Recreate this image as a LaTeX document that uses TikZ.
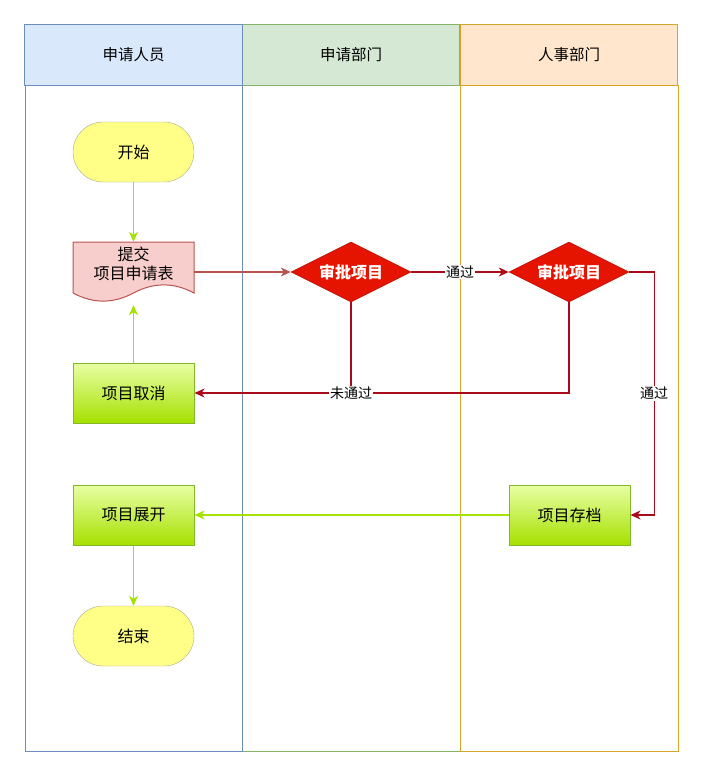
\documentclass[tikz,border=0pt]{standalone}
\usepackage{fontspec}
\setmainfont{Noto Sans CJK SC}
\usetikzlibrary{shapes.geometric,arrows.meta}
\definecolor{hdrblue}{RGB}{218,232,252}
\definecolor{lnblue}{RGB}{108,142,191}
\definecolor{hdrgreen}{RGB}{213,232,212}
\definecolor{lngreen}{RGB}{130,179,102}
\definecolor{hdrorange}{RGB}{255,230,204}
\definecolor{lnorange}{RGB}{215,165,40}
\definecolor{termfill}{RGB}{255,255,136}
\definecolor{termline}{RGB}{170,170,140}
\definecolor{docfill}{RGB}{248,206,204}
\definecolor{docline}{RGB}{184,84,80}
\definecolor{decfill}{RGB}{229,20,0}
\definecolor{decline}{RGB}{178,0,0}
\definecolor{redarrow}{RGB}{170,10,25}
\definecolor{lime}{RGB}{166,226,0}
\definecolor{boxtop}{RGB}{232,255,165}
\definecolor{boxbot}{RGB}{166,224,0}
\definecolor{boxline}{RGB}{130,185,40}
\tikzset{
  hdr/.style={draw, minimum width=217.5pt, minimum height=60pt, inner sep=0pt, font=\fontsize{15.5}{18}\selectfont},
  term/.style={draw=termline, fill=termfill, rounded corners=30pt, minimum width=121pt, minimum height=60pt, inner sep=0pt, font=\fontsize{16}{19}\selectfont},
  procbox/.style={draw=boxline, line width=1pt, top color=boxtop, bottom color=boxbot, minimum width=121pt, minimum height=60pt, inner sep=0pt, font=\fontsize{16}{19}\selectfont},
  decision/.style={diamond, draw=decline, fill=decfill, aspect=2, minimum width=120pt, minimum height=60pt, inner sep=0pt, text=white, font=\bfseries\fontsize{16}{19}\selectfont},
  lbl/.style={fill=white, inner sep=1pt, font=\fontsize{14}{16}\selectfont},
  tipstyle/.style={-{Stealth[length=10pt,width=9pt,inset=3pt]}},
  limearrow/.style={draw=lime, line width=1.2pt, tipstyle},
  redarr/.style={draw=redarrow, line width=1.2pt, tipstyle},
  pinkarr/.style={draw=docline, line width=1.2pt, tipstyle},
}
\begin{document}
\begin{tikzpicture}[x=1pt,y=-1pt]
\useasboundingbox (0,0) rectangle (703,776);
% lanes
\draw[lngreen, line width=1pt] (242,85) rectangle (460,751);
\draw[lnblue, line width=1pt] (25,85) rectangle (242,751);
\draw[lnorange, line width=1pt] (460,85) rectangle (678,751);
\node[hdr, draw=lngreen, fill=hdrgreen, line width=1pt] (h2) at (351,55) {申请部门};
\node[hdr, draw=lnblue, fill=hdrblue, line width=1pt] (h1) at (133.5,55) {申请人员};
\node[hdr, draw=lnorange, fill=hdrorange, line width=1pt] (h3) at (569,55) {人事部门};
% nodes
\node[term] (start) at (133.5,152) {开始};
\node[minimum width=121pt, minimum height=60pt, inner sep=0pt] (doc) at (133.5,272) {};
\draw[docline, fill=docfill, line width=1pt] (73,242) -- (194,242) -- (194,293)
  .. controls (173.8,282.2) and (153.7,282.2) .. (133.5,293)
  .. controls (113.3,303.8) and (93.2,303.8) .. (73,293) -- cycle;
\node[align=center, font=\fontsize{16}{19}\selectfont] (doctext) at (133.5,264) {提交\\项目申请表};
\node[decision] (d1) at (351,272) {审批项目};
\node[decision] (d2) at (569,272) {审批项目};
\node[procbox] (cancel) at (133.5,393) {项目取消};
\node[procbox] (launch) at (133.5,515) {项目展开};
\node[procbox] (archive) at (569.5,515) {项目存档};
\node[term] (end) at (133.5,636) {结束};
% connectors
\draw[limearrow] (start) -- (doc.north);
\draw[pinkarr] (doc.east |- d1) -- (d1.west);
\draw[redarr] (d1.east) -- node[lbl] {通过} (d2.west);
\draw[redarr] (d2.east) -- ++(25,0) |- node[lbl, pos=0.25] {通过} (archive.east);
\draw[draw=redarrow, line width=1.2pt] (d2.south) |- (d1.south |- cancel);
\draw[redarr] (d1.south) |- node[lbl, pos=0.5] {未通过} (cancel.east);
\draw[limearrow] (cancel.north) -- ([yshift=-3pt]doc.south);
\draw[limearrow] (archive.west) -- (launch.east);
\draw[limearrow] (launch.south) -- (end.north);
\end{tikzpicture}
\end{document}
